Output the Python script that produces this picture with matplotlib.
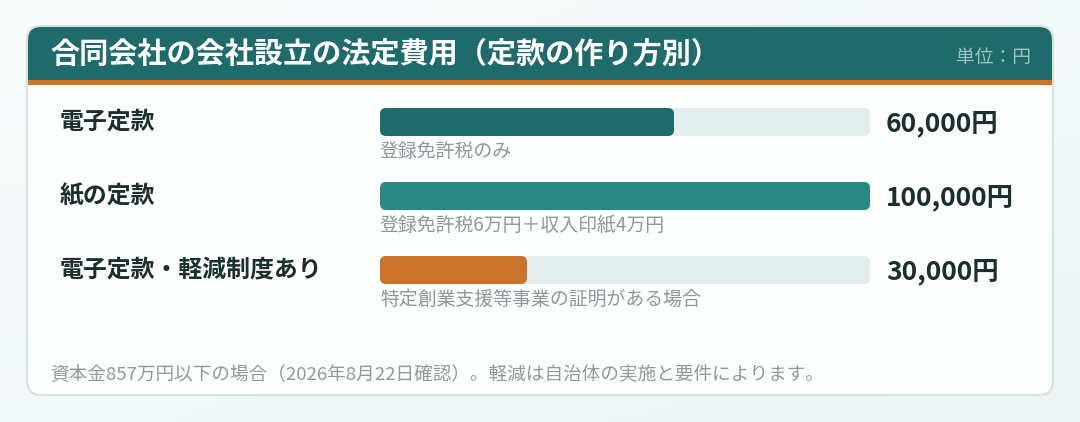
import numpy as np
import matplotlib
matplotlib.use("Agg")
import matplotlib.pyplot as plt
from matplotlib.patches import FancyBboxPatch, Rectangle
import matplotlib.transforms as mtransforms

plt.rcParams['font.family'] = ['Noto Sans CJK JP', 'DejaVu Sans']

# Data
#-----------------------------------------------------------------------------------
title = "合同会社の会社設立の法定費用（定款の作り方別）"
unit_label = "単位：円"
categories = ["電子定款", "紙の定款", "電子定款・軽減制度あり"]
values = [60000, 100000, 30000]
notes = ["登録免許税のみ", "登録免許税6万円＋収入印紙4万円", "特定創業支援等事業の証明がある場合"]
footer = "資本金857万円以下の場合（2026年8月22日確認）。軽減は自治体の実施と要件によります。"
bar_colors = ["#1f6b6b", "#2a8983", "#c9732b"]
max_value = 100000
#-----------------------------------------------------------------------------------

W, H = 1080, 422
fig = plt.figure(figsize=(W / 100, H / 100), dpi=100)

# main canvas in pixel units
ax = fig.add_axes([0, 0, 1, 1])
ax.set_xlim(0, W)
ax.set_ylim(H, 0)
ax.axis("off")

# background gradient
gy, gx = np.mgrid[0:1:50j, 0:1:50j]
g = 0.55 * gy + 0.45 * gx
c0 = np.array([0.975, 0.988, 0.984])
c1 = np.array([0.933, 0.957, 0.965])
bg = c0[None, None, :] * (1 - g[..., None]) + c1[None, None, :] * g[..., None]
ax.imshow(bg, extent=[0, W, H, 0], aspect="auto", zorder=0)

# card
card = FancyBboxPatch((27, 26), 1026, 369, boxstyle="round,pad=0,rounding_size=14",
                      facecolor="#fdfefe", edgecolor="none", zorder=1)
ax.add_patch(card)
header = Rectangle((27, 26), 1026, 54, facecolor="#1f6b6b", edgecolor="none", zorder=2)
header.set_clip_path(card)
ax.add_patch(header)
stripe = Rectangle((27, 80), 1026, 5, facecolor="#cc7428", edgecolor="none", zorder=2)
stripe.set_clip_path(card)
ax.add_patch(stripe)
border = FancyBboxPatch((27, 26), 1026, 369, boxstyle="round,pad=0,rounding_size=14",
                        facecolor="none", edgecolor="#d3e3e3", linewidth=1.5, zorder=3)
ax.add_patch(border)

ax.text(50, 54, title, color="white", fontsize=21, fontweight="bold",
        va="center", ha="left", zorder=4)
ax.text(1031, 57, unit_label, color="#9cc3bf", fontsize=13.5,
        va="center", ha="right", zorder=4)
ax.text(50, 375, footer, color="#8c9c9c", fontsize=13.4, va="center", ha="left", zorder=4)

# bars
bx0, bx1 = 380, 870
by0, by1 = 85, 307
bar_ax = fig.add_axes([bx0 / W, (H - by1) / H, (bx1 - bx0) / W, (by1 - by0) / H])
bar_ax.set_xlim(0, max_value)
bar_ax.set_ylim(len(categories) - 0.5, -0.5)
bar_ax.axis("off")
bar_ax.patch.set_alpha(0)

xu = max_value / (bx1 - bx0)
yu = len(categories) / (by1 - by0)
aspect = yu / xu
radius = 6 * xu
bar_h = 28 * yu

rows = np.arange(len(categories))
tracks = bar_ax.barh(rows, [max_value] * len(rows), height=bar_h)
bars = bar_ax.barh(rows, values, height=bar_h)


def round_bar(rect, color, z):
    rect.set_visible(False)
    p = FancyBboxPatch((rect.get_x(), rect.get_y()), rect.get_width(), rect.get_height(),
                       boxstyle=f"round,pad=0,rounding_size={radius}",
                       mutation_aspect=aspect, facecolor=color, edgecolor="none", zorder=z)
    bar_ax.add_patch(p)


for rect in tracks:
    round_bar(rect, "#e4eded", 1)
for rect, col in zip(bars, bar_colors):
    round_bar(rect, col, 2)

# row texts: x in pixels, y in row units
trans = mtransforms.blended_transform_factory(ax.transData, bar_ax.transData)
for i, (cat, val, note) in enumerate(zip(categories, values, notes)):
    ax.text(60, i, cat, transform=trans, color="#1b2f2f", fontsize=17.2,
            fontweight="bold", va="center", ha="left", zorder=4)
    ax.text(886, i + 0.03, f"{val:,}円", transform=trans, color="#1b2f2f", fontsize=19,
            fontweight="bold", va="center", ha="left", zorder=4)
    ax.text(380, i + 0.40, note, transform=trans, color="#8a9999", fontsize=13.6,
            va="center", ha="left", zorder=4)

fig.savefig("out.png", dpi=100)
